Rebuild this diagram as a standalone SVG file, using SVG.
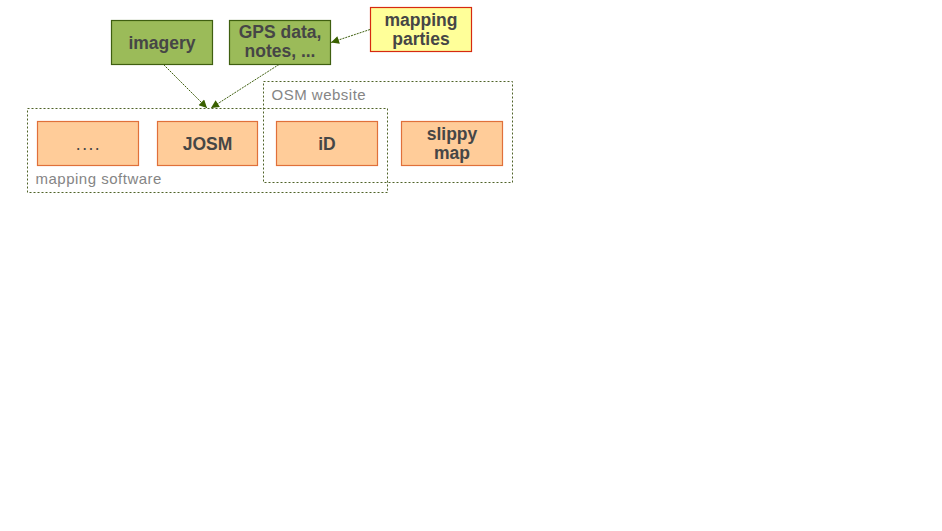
<svg xmlns="http://www.w3.org/2000/svg" width="942" height="531" viewBox="0 0 942 531">
<style>
.bg{fill:#ffffff}
.grp{fill:none;stroke:#4f6228;stroke-width:1;stroke-dasharray:2,2}
.grplbl{font-family:"Liberation Sans",Arial,sans-serif;font-size:15px;fill:#858585;letter-spacing:0.5px}
.green{fill:#9bbb59;stroke:#3f5f10;stroke-width:1.2}
.orange{fill:#ffcc99;stroke:#e0703a;stroke-width:1.2}
.yellow{fill:#ffff99;stroke:#d62a10;stroke-width:1.2}
.lbl{font-family:"Liberation Sans",Arial,sans-serif;font-size:17.5px;font-weight:bold;fill:#464646;text-anchor:middle}
.dots{font-family:"Liberation Sans",Arial,sans-serif;font-size:17.5px;fill:#464646;text-anchor:middle;letter-spacing:1.5px}
.conn{fill:none;stroke:#3f6010;stroke-width:1;stroke-dasharray:2,1}
</style>
<defs>
<marker id="arr" viewBox="0 0 10 10" refX="10" refY="5" markerWidth="9" markerHeight="8" markerUnits="userSpaceOnUse" orient="auto">
<path d="M0,0 L10,5 L0,10 Z" fill="#3a6000"/>
</marker>
</defs>
<rect class="bg" x="0" y="0" width="942" height="531"/>
<g id="mapping-software">
<rect class="grp" x="27.5" y="108.5" width="360" height="84"/>
<text class="grplbl" x="35.5" y="184">mapping software</text>
</g>
<g id="osm-website">
<rect class="grp" x="263.5" y="81.5" width="249" height="101"/>
<text class="grplbl" x="271.5" y="100">OSM website</text>
</g>
<g id="imagery">
<rect class="green" x="111.5" y="20.5" width="101" height="44"/>
<text class="lbl" x="162" y="48.5">imagery</text>
</g>
<g id="gps-data">
<rect class="green" x="229.5" y="20.5" width="101" height="44"/>
<text class="lbl" x="280" y="37.5">GPS data,</text>
<text class="lbl" x="280" y="56.5">notes, ...</text>
</g>
<g id="mapping-parties">
<rect class="yellow" x="370.5" y="7.5" width="101" height="44"/>
<text class="lbl" x="421" y="25.5">mapping</text>
<text class="lbl" x="421" y="44.5">parties</text>
</g>
<g id="other-software">
<rect class="orange" x="37.5" y="121.5" width="101" height="44"/>
<text class="dots" x="88.5" y="149.5">....</text>
</g>
<g id="josm">
<rect class="orange" x="157.5" y="121.5" width="100" height="44"/>
<text class="lbl" x="207.5" y="150">JOSM</text>
</g>
<g id="id-editor">
<rect class="orange" x="276.5" y="121.5" width="101" height="44"/>
<text class="lbl" x="327" y="150">iD</text>
</g>
<g id="slippy-map">
<rect class="orange" x="401.5" y="121.5" width="101" height="44"/>
<text class="lbl" x="452" y="139.5">slippy</text>
<text class="lbl" x="452" y="158.5">map</text>
</g>
<g id="connectors">
<line class="conn" x1="163.5" y1="64.5" x2="207" y2="108" marker-end="url(#arr)"/>
<line class="conn" x1="279" y1="64.5" x2="211" y2="108" marker-end="url(#arr)"/>
<line class="conn" x1="370" y1="29.5" x2="331" y2="42.5" marker-end="url(#arr)"/>
</g>
</svg>
